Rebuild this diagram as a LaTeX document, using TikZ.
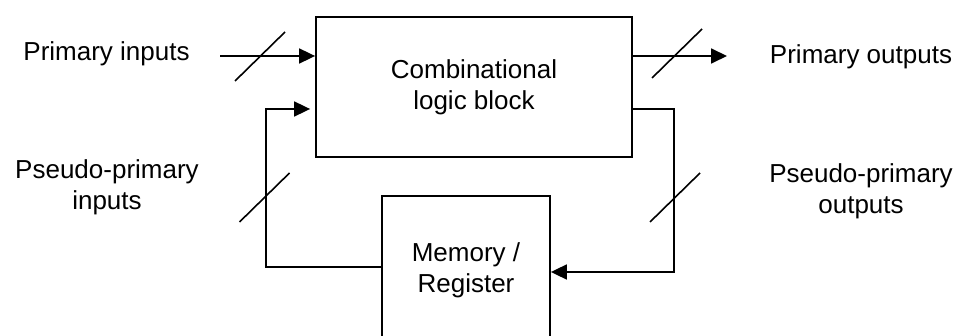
\documentclass[tikz,border=0pt]{standalone}
\usepackage{fontspec}
\setmainfont{Liberation Sans}
\usetikzlibrary{arrows.meta}
\begin{document}
\begin{tikzpicture}[x=1pt,y=-1pt,
  font=\fontsize{26}{31}\selectfont,
  wire/.style={line width=1.8pt},
  flow/.style={wire,-{Triangle[length=16pt,width=15pt]}},
  block/.style={draw,line width=1.8pt,align=center,inner sep=0pt},
  caption/.style={align=center,inner sep=0pt},
  buswidth/.style={line width=1.6pt}
]
\useasboundingbox (0,0) rectangle (957,336);

% functional blocks
\node[block, minimum width=316pt, minimum height=140pt] (comb) at (474,87) {Combinational\\logic block};
\node[block, minimum width=168pt, minimum height=148pt] (mem) at (466,270) {Memory /\\Register};

% signal captions
\node[caption, anchor=base] (pi) at (106.5,61) {Primary inputs};
\node[caption, anchor=base] (po) at (861,64) {Primary outputs};
\node[caption] (ppi) at (107,187) {Pseudo-primary\\inputs};
\node[caption] (ppo) at (861,191.5) {Pseudo-primary\\outputs};

% primary inputs and outputs
\coordinate (inStart) at (220,56);
\coordinate (outEnd) at (727,56);
\draw[flow] (inStart) -- (inStart -| comb.west);
\draw[flow] (outEnd -| comb.east) -- (outEnd);

% feedback loop through the register
\coordinate (fbLtop) at (266,109);
\coordinate (fbLbot) at (266,267);
\coordinate (fbRtop) at (674,109);
\coordinate (fbRbot) at (674,272);
\draw[flow] (fbLbot -| mem.west) -- (fbLbot) -- (fbLtop) -- ([xshift=-5pt]fbLtop -| comb.west);
\draw[flow] (fbRtop -| comb.east) -- (fbRtop) -- (fbRbot) -- (fbRbot -| mem.east);

% bus-width marks
\draw[buswidth] (260,56.5) +(-25,24.5) -- +(25,-24.5);
\draw[buswidth] (677,53.5) +(-25,24.5) -- +(25,-24.5);
\draw[buswidth] (264.5,197.5) +(-25,24.5) -- +(25,-24.5);
\draw[buswidth] (675,197.5) +(-25,24.5) -- +(25,-24.5);
\end{tikzpicture}
\end{document}
